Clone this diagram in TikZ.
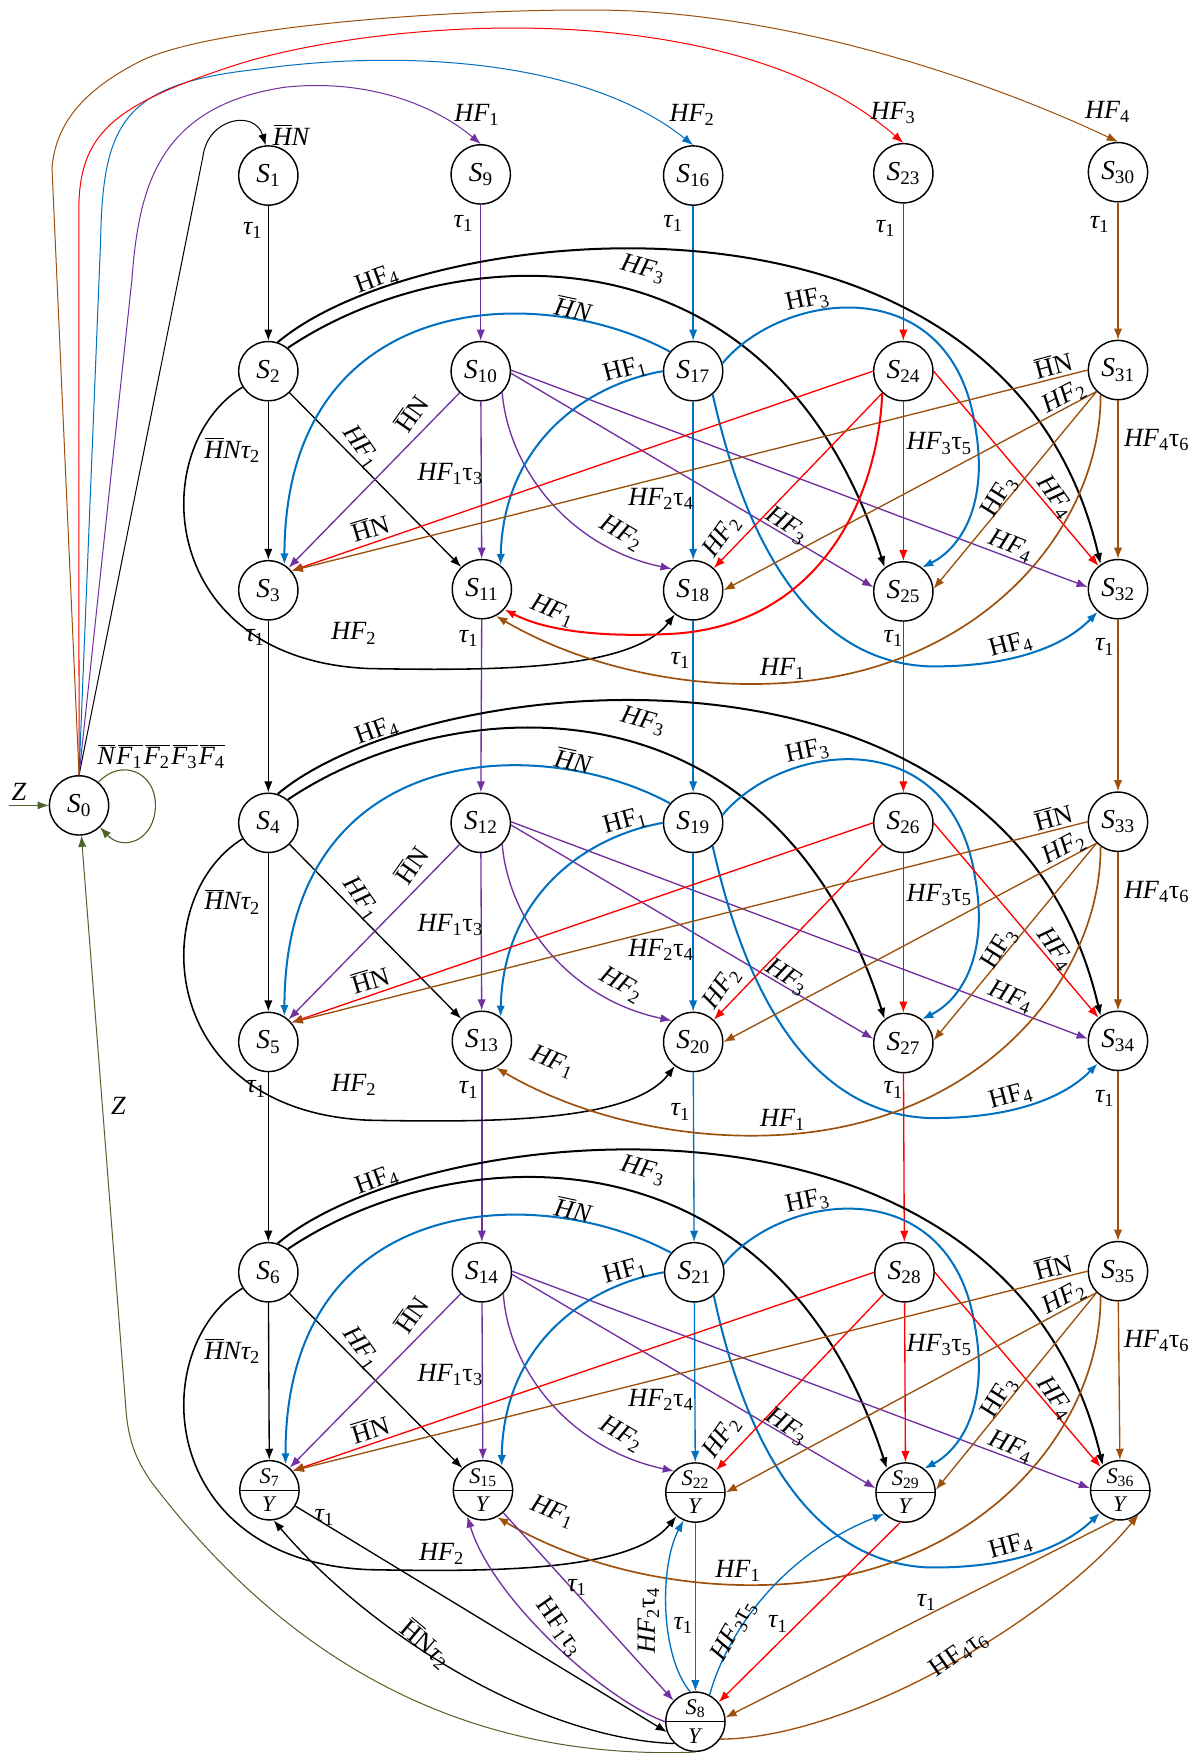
\documentclass[tikz,border=0pt]{standalone}
\usepackage{fontspec}
\setmainfont{Liberation Serif}
\usetikzlibrary{arrows.meta}
\definecolor{cpur}{RGB}{112,48,160}
\definecolor{cblu}{RGB}{0,112,192}
\definecolor{cred}{RGB}{255,0,0}
\definecolor{cbrn}{RGB}{156,80,12}
\definecolor{cgrn}{RGB}{79,98,40}
\newcommand\sub[1]{\textsubscript{\upshape #1}}
\newcommand\ob[1]{\leavevmode\setbox0\hbox{#1}\rlap{\kern1pt\raisebox{\dimexpr\ht0+1.8pt\relax}{\rule{\dimexpr\wd0-0.5pt\relax}{0.9pt}}}\box0}
\newcommand\Sn[1]{\textit{S}\sub{#1}}
\newcommand\spn[3]{%
  \node[st] (#1) at (#2) {};
  \draw[line width=1.3pt] (#1.west) -- (#1.east);
  \node[sp] (#1t) at ([yshift=11.5pt]#1.center) {\Sn{#3}};
  \node[sp] (#1b) at ([yshift=-12.5pt]#1.center) {\textit{Y}};}
\newcommand\blk[5]{%
\begin{scope}[shift={(0,#3)}]
% black
\draw[e] (r#1c1) -- (r#2c1);
\draw[e] (r#1c1) -- (r#2c2.133);
\draw[e,line width=1.4pt] (r#1c1) .. controls (130,400) and (140,590) .. (330,598) .. controls (440,600) and (565,600) .. (r#2c3);
\draw[e,thk] (r#1c1.50) .. controls (400,215) and (690,190) .. (r#2c4.128);
\draw[e,thk] (r#1c1.72) .. controls (380,195) and (900,140) .. (r#2c5.125);
% purple
\draw[e,cpur] (r#1c2) -- (r#2c2);
\draw[e,cpur] (r#1c2) -- (r#2c1.48);
\draw[e,cpur] (r#1c2.-45) .. controls (455,420) and (510,490) .. (r#2c3.135);
\draw[e,cpur] (r#1c2.-4) -- (r#2c4.172);
\draw[e,cpur] (r#1c2.2) -- (r#2c5.176);
% blue
\draw[e,cblu] (r#1c3) -- (r#2c3);
\draw[e,cblu,thk] (r#1c3.140) .. controls (480,250) and (255,260) .. (r#2c1.58);
\draw[e,cblu,thk] (r#1c3.west) .. controls (520,345) and (450,400) .. (r#2c2.52);
\draw[e,cblu,thk] (r#1c3.15) .. controls (700,260) and (850,240) .. (872,380) .. controls (885,450) and (860,490) .. (r#2c4.52);
\draw[e,cblu,thk] (r#1c3.-50) .. controls (655,430) and (700,590) .. (830,596) .. controls (900,597) and (950,580) .. (r#2c5.228);
% red
\draw[e,cred] (r#1c4) -- (r#2c4);
\draw[e,cred] (r#1c4.west) -- (r#2c1.40);
\draw[e,cred] (r#1c4) -- (r#2c3.47);
\draw[e,cred] (r#1c4.east) -- (r#2c5.130);
% brown
\draw[e,cbrn] (r#1c5) -- (r#2c5);
\draw[e,cbrn] (r#1c5.west) -- (r#2c1.40);
\draw[e,cbrn] (r#1c5.225) -- (r#2c3.east);
\draw[e,cbrn] (r#1c5.225) -- (r#2c4.5);
\draw[e,cbrn,line width=1.5pt] (r#1c5.235) .. controls (985,470) and (880,600) .. (700,611) .. controls (600,617) and (510,590) .. (r#2c2.-62);
% labels
\node[lab] (L#1a) at (207.6,402.7) {\ob{H}Nτ\sub2};
\node[lab, rotate=-55] (L#1b) at (322.8,399.7) {HF\sub1};
\node[lab] (L#1c) at (#4) {HF\sub2};
\node[lab, rotate=-15] (L#1d) at (575,241) {HF\sub3};
\node[labr, rotate=20] (L#1e) at (337,250) {HF\sub4};
\node[lab] (L#1f) at (402.7,423.6) {HF\sub1\textup{τ}\sub3};
\node[labr, rotate=55] (L#1g) at (367.5,369.8) {\ob{H}N};
\node[lab, rotate=-30] (L#1h) at (555.7,477) {HF\sub2};
\node[lab, rotate=-33] (L#1i) at (703.4,470) {HF\sub3};
\node[lab, rotate=-22] (L#1j) at (904,488) {HF\sub4};
\node[lab] (L#1k) at (591.2,446) {HF\sub2\textup{τ}\sub4};
\node[lab, rotate=-12] (L#1l) at (512.7,275.8) {\ob{H}N};
\node[labr, rotate=15] (L#1m) at (559,331) {HF\sub1};
\node[labr, rotate=12] (L#1n) at (722,268.5) {HF\sub3};
\node[labr, rotate=15] (L#1o) at (904,577) {HF\sub4};
\node[lab] (L#1p) at (840,396.7) {HF\sub3\textup{τ}\sub5};
\node[labr, rotate=17] (L#1q) at (331,472) {\ob{H}N};
\node[lab, rotate=55] (L#1r) at (646,480) {HF\sub2};
\node[lab, rotate=-22] (L#1s) at (494,546) {HF\sub1};
\node[lab, rotate=-55] (L#1t) at (943.7,444.5) {HF\sub4};
\node[lab] (L#1u) at (1034.5,393.7) {HF\sub4\textup{τ}\sub6};
\node[labr, rotate=15] (L#1v) at (942,326.6) {\ob{H}N};
\node[lab, rotate=28] (L#1w) at (951.7,355) {HF\sub2};
\node[labr, rotate=58] (L#1x) at (894.3,444.5) {HF\sub3};
\node[lab] (L#1y) at (#5) {HF\sub1};
\end{scope}}
\begin{document}
\begin{tikzpicture}[x=1pt,y=-1pt,
 st/.style={circle, draw, line width=1.3pt, minimum size=53pt, inner sep=0pt, font=\fontsize{24.5}{26}\selectfont},
 sp/.style={inner sep=0pt, font=\fontsize{20}{22}\selectfont},
 lab/.style={inner sep=0pt, font=\fontsize{23.5}{26}\selectfont\itshape},
 labr/.style={inner sep=0pt, font=\fontsize{23.5}{26}\selectfont},
 e/.style={-{Latex[length=10pt,width=7.5pt]}, line width=1.2pt},
 thk/.style={line width=1.8pt},
 fan/.style={-{Latex[length=10pt,width=7.5pt]}, line width=0.9pt}]
\useasboundingbox (0,0) rectangle (1072,1568);
\fill[white] (0,0) rectangle (1072,1568);
% nodes
\node[st] (S0) at (70.7,720.4) {\Sn0};
\node[st] (r1c1) at (240,157) {\Sn1};
\node[st] (r1c2) at (430,156) {\Sn9};
\node[st] (r1c3) at (620,157) {\Sn{16}};
\node[st] (r1c4) at (808,155) {\Sn{23}};
\node[st] (r1c5) at (1000,154) {\Sn{30}};
\node[st] (r2c1) at (240,332) {\Sn2};
\node[st] (r2c2) at (430,332) {\Sn{10}};
\node[st] (r2c3) at (620,332) {\Sn{17}};
\node[st] (r2c4) at (808,332) {\Sn{24}};
\node[st] (r2c5) at (1000,331) {\Sn{31}};
\node[st] (r3c1) at (240,528) {\Sn3};
\node[st] (r3c2) at (431,527) {\Sn{11}};
\node[st] (r3c3) at (620,528) {\Sn{18}};
\node[st] (r3c4) at (808,529) {\Sn{25}};
\node[st] (r3c5) at (1000,527) {\Sn{32}};
\node[st] (r4c1) at (240,736) {\Sn4};
\node[st] (r4c2) at (430,736) {\Sn{12}};
\node[st] (r4c3) at (620,736) {\Sn{19}};
\node[st] (r4c4) at (808,736) {\Sn{26}};
\node[st] (r4c5) at (1000,735) {\Sn{33}};
\node[st] (r5c1) at (240,932) {\Sn5};
\node[st] (r5c2) at (431,931) {\Sn{13}};
\node[st] (r5c3) at (620,932) {\Sn{20}};
\node[st] (r5c4) at (808,933) {\Sn{27}};
\node[st] (r5c5) at (1000,931) {\Sn{34}};
\node[st] (r6c1) at (240,1138) {\Sn6};
\node[st] (r6c2) at (431,1138) {\Sn{14}};
\node[st] (r6c3) at (621,1138) {\Sn{21}};
\node[st] (r6c4) at (809,1138) {\Sn{28}};
\node[st] (r6c5) at (1000,1137) {\Sn{35}};
\spn{r7c1}{241,1333}{7}
\spn{r7c2}{432,1333}{15}
\spn{r7c3}{622,1335}{22}
\spn{r7c4}{810,1335}{29}
\spn{r7c5}{1002,1333}{36}
\spn{r8}{622,1540}{8}
% tau1 verticals between blocks
\foreach \c/\k in {1/black,2/cpur,3/cblu,4/cred,5/cbrn}{
  \draw[e,color=\k] (r1c\c) -- (r2c\c);
  \draw[e,color=\k] (r3c\c) -- (r4c\c);
  \draw[e,color=\k] (r5c\c) -- (r6c\c);}
\blk{2}{3}{0}{316.4,566.6}{700,598}
\blk{4}{5}{404}{316.4,566.6}{700,598}
\blk{6}{7}{806}{395,584}{660,599}
% red HF1 curve (first block only)
\draw[e,cred,thk] (r2c4.226) .. controls (785,450) and (730,560) .. (600,567) .. controls (540,570) and (490,565) .. (r3c2.-42);
% tau labels
\node[lab] (ta1) at (226,206) {τ\sub1};
\node[lab] (ta2) at (414.4,200) {τ\sub1};
\node[lab] (ta3) at (602,200) {τ\sub1};
\node[lab] (ta4) at (792,204) {τ\sub1};
\node[lab] (ta5) at (983.5,201) {τ\sub1};
\node[lab] (tb1) at (228,570) {τ\sub1};
\node[lab] (tb2) at (419,571) {τ\sub1};
\node[lab] (tb3) at (608.5,590.6) {τ\sub1};
\node[lab] (tb4) at (799,571) {τ\sub1};
\node[lab] (tb5) at (988,578.7) {τ\sub1};
\node[lab] (tc1) at (229,974) {τ\sub1};
\node[lab] (tc2) at (419,975) {τ\sub1};
\node[lab] (tc3) at (608.5,994.6) {τ\sub1};
\node[lab] (tc4) at (799,975) {τ\sub1};
\node[lab] (tc5) at (988,982.7) {τ\sub1};
% S0 area
\coordinate (zin) at (8,720.4);
\draw[e,cgrn,line width=1pt] (zin) -- (S0);
\node[lab] (Lz) at (17,708) {Z};
\draw[e,cgrn,line width=1pt] (S0.50) .. controls (108,678) and (139,690) .. (139,720) .. controls (139,752) and (110,762) .. (S0.-46);
\node[lab] (Lloop) at (144,677) {\ob{N}\kern1.5pt\ob{F\sub1}\kern1.5pt\ob{F\sub2}\kern1.5pt\ob{F\sub3}\kern1.5pt\ob{F\sub4}};
\draw[e,cgrn,line width=0.9pt] (r8.south) .. controls (420,1575) and (260,1490) .. (135,1325) .. controls (125,1310) and (116,1295) .. (113,1265) -- (S0);
\node[lab] (LZ2) at (106,989) {Z};
% fan from S0
\draw[fan] (S0.north) -- (181.5,140) .. controls (186,105) and (228,98) .. (r1c1.95);
\draw[fan,cpur] (S0.north) -- (118,250) .. controls (124,170) and (140,95) .. (255,78) .. controls (330,70) and (390,95) .. (r1c2.north);
\draw[fan,cblu] (S0.north) -- (90,215) .. controls (92,110) and (110,75) .. (230,62) .. controls (350,45) and (520,50) .. (r1c3.north);
\draw[fan,cred] (S0.north) -- (70.5,190) .. controls (70,120) and (100,95) .. (205,60) .. controls (330,18) and (650,-10) .. (r1c4.north);
\draw[fan,cbrn] (S0.north) -- (46.5,150) .. controls (50,110) and (75,80) .. (127,54) .. controls (190,24) and (400,8) .. (535,9) .. controls (700,10) and (880,70) .. (r1c5.north);
\node[lab] (Lt0) at (260.3,120.8) {\ob{H}N};
\node[lab] (Lt1) at (426.4,102.9) {HF\sub1};
\node[lab] (Lt2) at (619,102.9) {HF\sub2};
\node[lab] (Lt3) at (798.8,101.4) {HF\sub3};
\node[lab] (Lt4) at (990.6,100) {HF\sub4};
% row 7 <-> S8
\draw[e] (r7c1) -- (r8.200);
\node[lab] (L8a) at (290,1357) {τ\sub1};
\draw[e] (r8.226) .. controls (480,1555) and (330,1460) .. (r7c1.-82);
\node[labr, rotate=-40] (L8b) at (380.6,1470.6) {\ob{H}N\textit{τ}\sub2};
\draw[e,cpur] (r7c2) -- (r8.136);
\node[lab] (L8c) at (516,1419.8) {τ\sub1};
\draw[e,cpur] (r8.west) .. controls (540,1520) and (440,1430) .. (r7c2.239);
\node[labr, rotate=-55] (L8d) at (500,1455.6) {HF\sub1τ\sub3};
\draw[e,cblu] (r7c3) -- (r8);
\node[lab] (L8e) at (611,1454) {τ\sub1};
\draw[e,cblu] (r8.100) .. controls (590,1480) and (590,1400) .. (r7c3.247);
\node[lab, rotate=90] (L8f) at (580,1449.7) {HF\sub2\textup{τ}\sub4};
\draw[e,cblu] (r8.62) .. controls (650,1460) and (700,1390) .. (r7c4.225);
\node[lab, rotate=60] (L8g) at (656.4,1458.6) {HF\sub3\textup{τ}\sub5};
\draw[e,cred] (r7c4.-100) -- (r8.40);
\node[lab] (L8h) at (695.6,1452.6) {τ\sub1};
\draw[e,cbrn] (r7c5.-100) -- (r8.8);
\node[lab] (L8i) at (828.6,1433.3) {τ\sub1};
\draw[e,cbrn] (r8.-35) .. controls (760,1555) and (940,1450) .. (r7c5.-53);
\node[labr, rotate=35] (L8j) at (857.7,1479.5) {HF\sub4\textup{τ}\sub6};
\end{tikzpicture}
\end{document}
